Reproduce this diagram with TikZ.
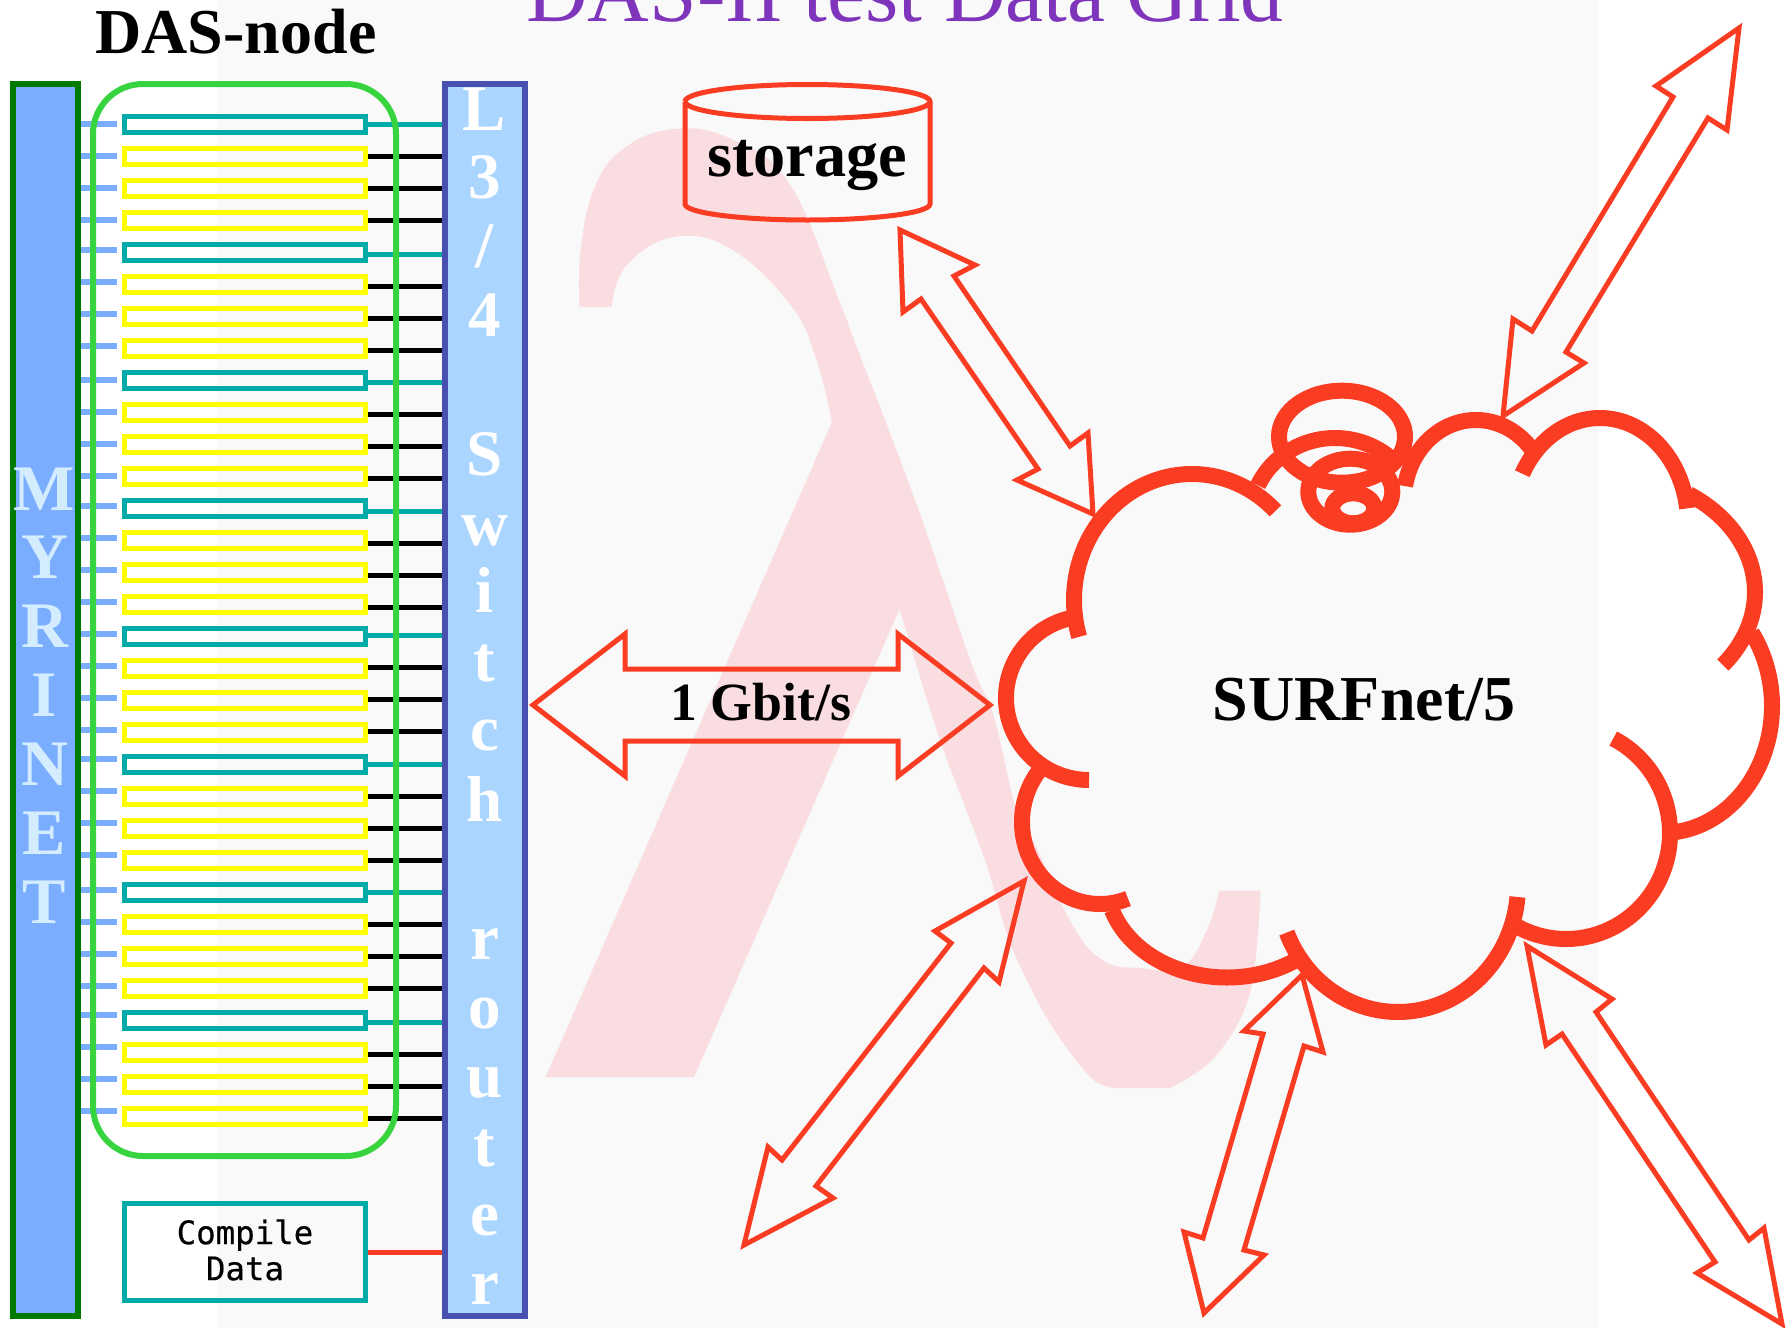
\documentclass[tikz,border=0pt]{standalone}
\usepackage{fontspec}
\setmainfont{Liberation Serif}
\newfontfamily\monofam[FakeBold=0.4]{DejaVu Sans Mono}
\definecolor{bgray}{HTML}{F9F9F9}
\definecolor{lampink}{HTML}{F9DDE1}
\definecolor{netred}{HTML}{FA3C23}
\definecolor{cputeal}{HTML}{00ABA8}
\definecolor{cpuyellow}{HTML}{FFFF00}
\definecolor{dasgreen}{HTML}{38D440}
\definecolor{myrfill}{HTML}{7BADFF}
\definecolor{myrline}{HTML}{007A00}
\definecolor{swfill}{HTML}{A9D5FF}
\definecolor{swline}{HTML}{4850B0}
\definecolor{myrtext}{HTML}{D3EDFE}
\definecolor{titlepurple}{HTML}{7F35BB}
\tikzset{
  x=1pt,y=-1pt,
  cpubox/.style={draw=#1,line width=5.5pt,rectangle,minimum width=241pt,minimum height=16pt,inner sep=0pt,outer sep=2.75pt},
  busbar/.style={rectangle,line width=6pt,minimum width=#1,minimum height=1232pt,inner sep=0pt,outer sep=3pt},
  wire/.style={line width=5pt,draw=#1},
  lettersty/.style={inner sep=0pt,anchor=base,font=\fontsize{65}{65}\selectfont\bfseries},
  cloudarc/.style={draw=netred,line width=16pt,line cap=butt,line join=round},
  dblarrow/.style={draw=netred,line width=5pt,line join=miter},
  lbl/.style={inner sep=0pt,anchor=base},
}
\newcommand{\cloudlobe}[6]{\draw[cloudarc] plot[domain=#5:#6,samples=90] ({#1+#3*cos(\x)},{#2-#4*sin(\x)});}
\begin{document}
\begin{tikzpicture}
\useasboundingbox (0,0) rectangle (1792,1328);
\fill[white] (0,0) rectangle (1792,1328);
\fill[bgray] (217,0) rectangle (1598,1328);
% lambda watermark
\fill[lampink] (579.5,307)
  -- plot[smooth,tension=.7] coordinates {(579.5,306) (580.6,251) (594,189) (623,149) (674,129) (731,139) (789,183) (840,303) (856,345) (915,500) (971,662) (993,714) (1016,808) (1037,849) (1073,926) (1104,961) (1140,968) (1182,967) (1207,930) (1219,890.7)}
  -- (1260.6,890.7)
  -- plot[smooth,tension=.6] coordinates {(1260.6,890.7) (1250,993) (1215,1057) (1170,1088)}
  -- (1114,1088)
  -- plot[smooth,tension=.5] coordinates {(1114,1088) (1090,1077) (1048,1020) (1010,943) (985,860) (940,740) (899.6,609)}
  -- (694,1077) -- (545.7,1077) -- (832,422)
  -- plot[smooth,tension=.7] coordinates {(832,422) (815,355) (789,303) (731,249) (674,237) (626,266) (611.7,307)}
  -- cycle;

% buses and nodes
\node[busbar=65pt,draw=myrline,fill=myrfill] (myr) at (45.5,700) {};
\node[busbar=80pt,draw=swline,fill=swfill] (sw) at (485,700) {};
\foreach \i/\yo/\lo in {0/0/0,1/0/0,2/0/0,3/0/0,
  4/2/-2.7,5/2/-2.7,6/2/-2.7,7/2/-2.7,
  8/2/0,9/2/0,10/2/0,11/2/0,
  12/3/-2.7,13/3/-2.7,14/3/-2.7,15/3/-2.7,
  16/-1.3/-2.7,17/-1.3/-2.7,18/-1.3/-2.7,19/-1.3/-2.7,
  20/0/-5.3,21/0/-5.3,22/0/-5.3,23/0/-5.3,
  24/0/-2.7,25/0/-2.7,26/0/-2.7,27/0/-2.7,
  28/2/-5,29/2/-5,30/2/-5,31/2/-5}{
  \pgfmathtruncatemacro{\g}{mod(\i,4)}
  \pgfmathsetmacro{\cy}{124.3+32*\i}
  \ifnum\g=0
    \node[cpubox=cputeal] (n\i) at (245,\cy) {};
    \draw[wire=cputeal] ([yshift=-\yo pt]n\i.east) -- ([yshift=-\yo pt]n\i.east -| sw.west);
  \else
    \node[cpubox=cpuyellow] (n\i) at (245,\cy) {};
    \draw[wire=black] ([yshift=-\yo pt]n\i.east) -- ([yshift=-\yo pt]n\i.east -| sw.west);
  \fi
  \coordinate (st\i) at ([xshift=-5pt,yshift=-\lo pt]n\i.west);
  \draw[wire=myrfill,line width=6pt] (st\i -| myr.east) -- (st\i);
}
\node[draw=dasgreen,line width=6pt,rounded corners=50pt,rectangle,inner sep=0pt,minimum width=303pt,minimum height=1072pt] (das) at (244.5,620) {};
\node[lbl,font=\fontsize{64}{64}\selectfont\bfseries] (dastitle) at (236,53) {DAS-node};
\node[lbl,anchor=base west,font=\fontsize{85.5}{85}\selectfont,text=titlepurple] (title) at (526,21.7) {DAS-II test Data Grid};

% compile box
\node[draw=cputeal,line width=5.5pt,rectangle,minimum width=241pt,minimum height=97pt,inner sep=0pt,outer sep=2.75pt] (comp) at (245,1252) {};
\node[inner sep=0pt,align=center,font=\monofam\fontsize{32.4}{36}\selectfont] (comptext) at (245,1250) {Compile\\Data};
\draw[wire=netred] (comp.east) -- (comp.east -| sw.west);

% letters
\foreach \t/\k in {M/0,Y/1,R/2,I/3,N/4,E/5,T/6}{
  \pgfmathsetmacro{\ly}{510+68.9*\k}
  \node[lettersty,text=myrtext] (myr\k) at (44.6,\ly) {\t};
}
\foreach \t/\k/\sh in {L/0/0,3/1/0,4/3/0,S/5/1,w/6/2,i/7/0,t/8/0,c/9/0,h/10/2,r/12/3,o/13/3,u/14/3,t/15/3,e/16/3,r/17/3}{
  \pgfmathsetmacro{\ly}{130+68.9*\k+\sh}
  \node[lettersty,text=white] (sw\k) at (484.6,\ly) {\t};
}
\node[lettersty,text=white] (swslash) at (484.6,267.8) {/};

% storage cylinder
\draw[netred,line width=5pt] (685,101.5) arc[start angle=180,end angle=-180,x radius=122.5,y radius=17];
\draw[netred,line width=5pt,line join=round] (685,101.5) -- (685,204) arc[start angle=180,end angle=360,x radius=122.5,y radius=-16] -- (930,101.5);
\node[lbl,font=\fontsize{64.3}{64}\selectfont\bfseries] (storage) at (807,176.7) {storage};

% arrows
\draw[dblarrow] (533,705) -- (625,634) -- (625,669) -- (898,669) -- (898,634) -- (990,705) -- (898,776) -- (898,741) -- (625,741) -- (625,776) -- cycle;
\node[lbl,font=\fontsize{53.8}{52}\selectfont\bfseries] (gbit) at (761,720) {1 Gbit/s};
\draw[dblarrow] (900,230) -- (975,265) -- (954,276) -- (1070,446) -- (1088,433) -- (1093,514) -- (1017,480) -- (1038,469) -- (921,299) -- (903,312) -- cycle;
\draw[dblarrow] (1739,28) -- (1656,86) -- (1673,97) -- (1532,331) -- (1513,319) -- (1503,416) -- (1584,363) -- (1566,352) -- (1708,118) -- (1727,130) -- cycle;
\draw[dblarrow] (1024,881) -- (935,931) -- (951,943) -- (782,1160) -- (768,1147) -- (744,1245) -- (833,1198) -- (816,1186) -- (984,968) -- (999,982) -- cycle;
\draw[dblarrow] (1302,975) -- (1244,1031) -- (1263,1034) -- (1203,1238) -- (1184,1232) -- (1204,1313) -- (1264,1255) -- (1244,1250) -- (1304,1046) -- (1323,1052) -- cycle;
\draw[dblarrow] (1527,946) -- (1612,999) -- (1596,1012) -- (1749,1240) -- (1764,1228) -- (1782,1324) -- (1697,1273) -- (1715,1262) -- (1562,1034) -- (1546,1045) -- cycle;

% cloud
\cloudlobe{1192}{600}{118}{126}{45}{197}
\cloudlobe{1089}{698}{83}{82}{100}{270}
\cloudlobe{1100}{822}{78}{82}{136}{291}
\cloudlobe{1227}{880}{121}{97.5}{198}{306}
\cloudlobe{1398}{885}{120}{127}{202}{354.6}
\cloudlobe{1566}{833}{104}{106}{241}{423}
\cloudlobe{1662}{706}{110}{127}{-82.4}{35.3}
\cloudlobe{1605}{592}{150}{118}{-38.2}{56}
\cloudlobe{1600}{523}{88}{105}{8}{152}
\cloudlobe{1476}{500}{72}{80}{40}{170}
\cloudlobe{1335}{520}{85}{82}{43}{155}
\draw[cloudarc] (1342,436.7) ellipse[x radius=63,y radius=46];
\draw[cloudarc] (1350.3,491.7) ellipse[x radius=42,y radius=33];
\draw[cloudarc] (1353.3,508.3) ellipse[x radius=21,y radius=15];
\node[lbl,font=\fontsize{64}{64}\selectfont\bfseries] (surf) at (1364,720.4) {SURFnet/5};
\end{tikzpicture}
\end{document}
